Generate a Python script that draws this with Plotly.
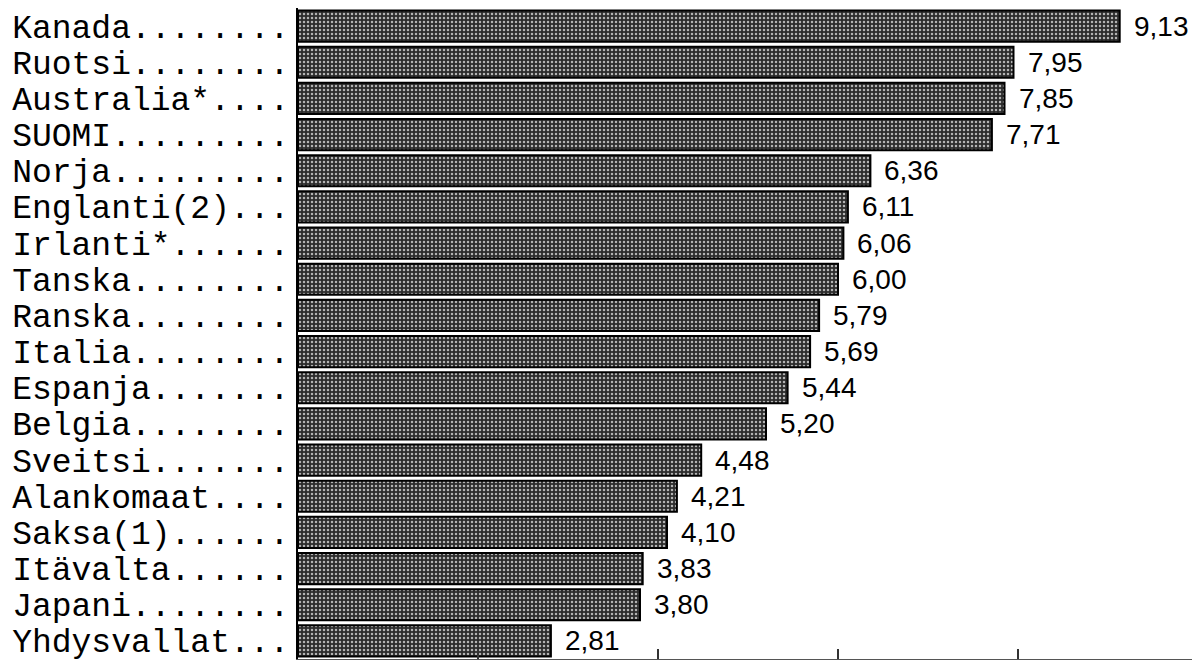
import plotly.graph_objects as go

countries = ["Kanada", "Ruotsi", "Australia*", "SUOMI", "Norja", "Englanti(2)",
             "Irlanti*", "Tanska", "Ranska", "Italia", "Espanja", "Belgia",
             "Sveitsi", "Alankomaat", "Saksa(1)", "Itävalta", "Japani", "Yhdysvallat"]
values = [9.13, 7.95, 7.85, 7.71, 6.36, 6.11, 6.06, 6.00, 5.79, 5.69, 5.44, 5.20,
          4.48, 4.21, 4.10, 3.83, 3.80, 2.81]
value_labels = [f"{v:.2f}".replace(".", ",") for v in values]
tick_labels = [c + "." * (14 - len(c)) for c in countries]
x_ticks = [0, 2, 4, 6, 8, 10]

fig = go.Figure()
fig.add_trace(go.Bar(
    x=values, y=countries, orientation="h",
    marker=dict(
        color="#444444",
        line=dict(color="black", width=2),
        pattern=dict(shape=".", fgcolor="#b4b4b4", bgcolor="#2c2c2c",
                     size=4, solidity=0.3, fillmode="replace"),
    ),
    hoverinfo="skip",
))

for v, c, t in zip(values, countries, value_labels):
    fig.add_annotation(x=v, y=c, text=t, showarrow=False, xanchor="left",
                       xshift=12, yshift=0,
                       font=dict(family="Liberation Sans, Arial", size=28, color="black"))

# page body has an 8px default margin, so the figure is sized to fit the window
fig.update_layout(
    width=1192, height=653,
    margin=dict(l=290, r=2, t=0, b=2),
    paper_bgcolor="white", plot_bgcolor="white",
    showlegend=False, bargap=0.14,
)
fig.update_xaxes(
    range=[0, 10], tickvals=x_ticks, showticklabels=False,
    ticks="inside", ticklen=10, tickwidth=1.5, tickcolor="#333",
    showline=True, linecolor="#555", linewidth=1,
    showgrid=False, zeroline=False, fixedrange=True, automargin=False,
    layer="above traces",
)
fig.update_yaxes(
    categoryorder="array", categoryarray=countries, autorange="reversed",
    tickvals=countries, ticktext=tick_labels,
    tickfont=dict(family="Liberation Mono, Courier New, monospace", size=33, color="black"),
    ticks="", ticklabelstandoff=0,
    showline=True, linecolor="black", linewidth=2,
    showgrid=False, zeroline=False, fixedrange=True, automargin=False,
)

fig.write_html("out.html")
